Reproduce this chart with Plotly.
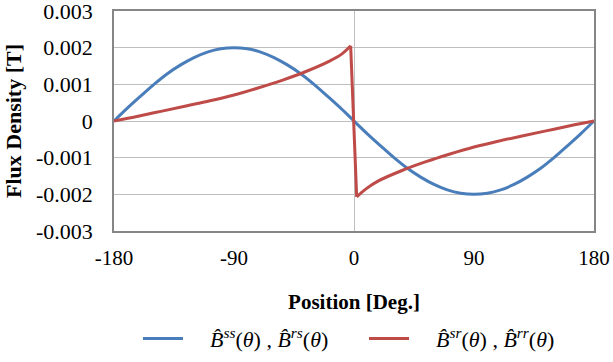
import plotly.graph_objects as go

# Blue series: B^ss / B^rs (read at 10 degree steps)
blue_theta = [-180, -170, -160, -150, -140, -130, -120, -110, -100, -90, -80, -70, -60, -50, -40, -30, -20, -10,
              0, 10, 20, 30, 40, 50, 60, 70, 80, 90, 100, 110, 120, 130, 140, 150, 160, 170, 180]
blue_vals = [0.0, 0.00035, 0.00068, 0.00100, 0.00129, 0.00153, 0.00173, 0.00188, 0.00197, 0.00200,
             0.00197, 0.00188, 0.00173, 0.00153, 0.00129, 0.00100, 0.00068, 0.00035,
             0.0, -0.00035, -0.00068, -0.00100, -0.00129, -0.00153, -0.00173, -0.00188, -0.00197, -0.00200,
             -0.00197, -0.00188, -0.00173, -0.00153, -0.00129, -0.00100, -0.00068, -0.00035, 0.0]

# Red series: B^sr / B^rr (sawtooth-like), left branch, jump, right branch
red_left_theta = [-180, -162, -144, -126, -108, -90, -72, -54, -36, -18, -9, -2.5]
red_left_vals = [0.0, 0.00013, 0.00027, 0.00041, 0.00055, 0.00071, 0.00090, 0.00111, 0.00135, 0.00164, 0.00183, 0.00205]
red_jump_theta = [-2.5, 2]
red_jump_vals = [0.00205, -0.00207]
red_right_theta = [2, 9, 18, 36, 54, 72, 90, 108, 126, 144, 162, 180]
red_right_vals = [-0.00207, -0.00185, -0.00164, -0.00135, -0.00111, -0.00090, -0.00071, -0.00055, -0.00041, -0.00027, -0.00013, 0.0]

x_ticks = [-180, -90, 0, 90, 180]
x_ticktext = ["-180", "-90", "0", "90", "180"]
y_ticks = [0.003, 0.002, 0.001, 0.0, -0.001, -0.002, -0.003]
y_ticktext = ["0.003", "0.002", "0.001", "0", "-0.001", "-0.002", "-0.003"]

NB = "\u00a0"
blue_name = NB * 4 + "<i>B̂</i><sup><i>ss</i></sup>(<i>θ</i>) , <i>B̂</i><sup><i>rs</i></sup>(<i>θ</i>)"
red_name = NB * 4 + "<i>B̂</i><sup><i>sr</i></sup>(<i>θ</i>) , <i>B̂</i><sup><i>rr</i></sup>(<i>θ</i>)"

FONT = "Liberation Serif"
BLUE = "#4A7EBB"
RED = "#BE4B48"

fig = go.Figure()
fig.add_trace(go.Scatter(x=blue_theta, y=blue_vals, mode="lines", name=blue_name,
                         line=dict(color=BLUE, width=3, shape="spline")))
fig.add_trace(go.Scatter(x=red_left_theta, y=red_left_vals, mode="lines", name=red_name,
                         legendgroup="red", line=dict(color=RED, width=3, shape="spline")))
fig.add_trace(go.Scatter(x=red_jump_theta, y=red_jump_vals, mode="lines", name=red_name,
                         legendgroup="red", showlegend=False, line=dict(color=RED, width=3)))
fig.add_trace(go.Scatter(x=red_right_theta, y=red_right_vals, mode="lines", name=red_name,
                         legendgroup="red", showlegend=False, line=dict(color=RED, width=3, shape="spline")))

fig.update_layout(
    width=613, height=362,
    margin=dict(l=114, r=19, t=11, b=131, autoexpand=False),
    paper_bgcolor="white", plot_bgcolor="white",
    font=dict(family=FONT, size=21, color="black"),
    showlegend=True,
    legend=dict(orientation="h", x=0.05, xanchor="left", y=-0.49, yanchor="middle",
                font=dict(family=FONT, size=22), itemwidth=40, tracegroupgap=0,
                entrywidth=171),
    xaxis=dict(range=[-180, 180], tickmode="array", tickvals=x_ticks, ticktext=x_ticktext,
               showgrid=False, zeroline=True, zerolinecolor="#BFBFBF", zerolinewidth=1,
               showline=True, linecolor="#868686", linewidth=1.5, mirror=True, ticks="",
               ticklabelstandoff=7, automargin=False, ticklabeloverflow="allow",
               title=dict(text="<b>Position [Deg.]</b>", font=dict(family=FONT, size=21), standoff=25)),
    yaxis=dict(range=[-0.003, 0.003], tickmode="array", tickvals=y_ticks, ticktext=y_ticktext,
               showgrid=True, gridcolor="#BFBFBF", gridwidth=1, zeroline=False,
               showline=True, linecolor="#868686", linewidth=1.5, mirror=True, ticks="",
               ticklabelstandoff=15, automargin=False, ticklabeloverflow="allow",
               tickfont=dict(family=FONT, size=22),
               title=dict(text="<b>Flux Density [T]</b>", font=dict(family=FONT, size=22), standoff=8)),
    xaxis2=dict(overlaying="x", anchor="free", position=0.5, side="top", range=[-180, 180],
                showgrid=False, zeroline=False, showline=True, linecolor="#A6A6A6", linewidth=1,
                showticklabels=False, ticks="outside", tick0=0, dtick=90, ticklen=7,
                tickcolor="#A6A6A6", tickwidth=1, automargin=False,
                minor=dict(dtick=18, tick0=0, ticks="outside", ticklen=5, tickcolor="#A6A6A6", tickwidth=1)),
)

fig.write_html("out.html", config={"displayModeBar": False},
               post_script="document.body.style.margin='0';document.body.style.overflow='hidden';")
